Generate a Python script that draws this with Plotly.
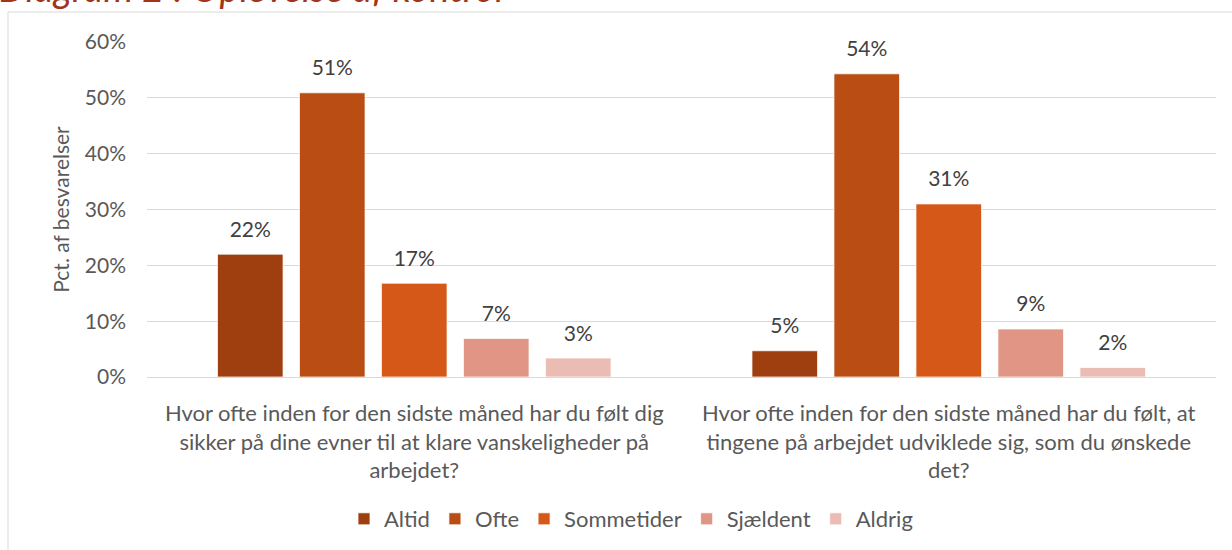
import plotly.graph_objects as go

categories = [
    "Hvor ofte inden for den sidste måned har du følt dig<br>sikker på dine evner til at klare vanskeligheder på<br>arbejdet?",
    "Hvor ofte inden for den sidste måned har du følt, at<br>tingene på arbejdet udviklede sig, som du ønskede<br>det?",
]
series_names = ["Altid", "Ofte", "Sommetider", "Sjældent", "Aldrig"]
altid = [0.220, 0.047]
ofte = [0.509, 0.543]
sommetider = [0.168, 0.310]
sjaeldent = [0.069, 0.086]
aldrig = [0.034, 0.017]
series_values = [altid, ofte, sommetider, sjaeldent, aldrig]
colors = ["#9F3F10", "#BA4D14", "#D55818", "#E09585", "#EBBCB3"]
y_ticks = [0, 0.1, 0.2, 0.3, 0.4, 0.5, 0.6]
y_ticklabels = ["0%", "10%", "20%", "30%", "40%", "50%", "60%"]

FONT = "Lato"
GREY = "#595959"
FS = 21

fig = go.Figure()
for name, vals, col in zip(series_names, series_values, colors):
    fig.add_trace(go.Bar(
        x=categories, y=vals, name=name, offsetgroup=name,
        marker=dict(color=col, line=dict(color="white", width=0.75)),
    ))
for name, vals in zip(series_names, series_values):
    fig.add_trace(go.Scatter(
        x=categories, y=vals, offsetgroup=name, mode="markers+text",
        marker=dict(size=18, opacity=0), showlegend=False, hoverinfo="skip",
        text=[f"{round(v*100):d}%" for v in vals], textposition="top center",
        textfont=dict(family=FONT, size=FS, color="#404040"), cliponaxis=False,
    ))

W, H = 1232, 550
L, R, T, B = 147, 16, 42, 173
pw, ph = W - L - R, H - T - B

def px_x(p):
    return (p - L) / pw

def px_y(p):
    return (H - B - p) / ph

fig.update_layout(
    width=W, height=H,
    margin=dict(l=L, r=R, t=T, b=B, autoexpand=False),
    paper_bgcolor="white", plot_bgcolor="white",
    barmode="group", bargap=0.233, bargroupgap=0.2,
    scattermode="group", scattergap=0.233,
    font=dict(family=FONT, size=FS, color=GREY),
    showlegend=True,
    legend=dict(orientation="h", x=px_x(631), xanchor="center", y=px_y(519), yanchor="middle",
                font=dict(family=FONT, size=22, color=GREY), traceorder="normal",
                itemwidth=30, tracegroupgap=0),
    xaxis=dict(showgrid=False, showline=False, ticks="", ticklabelstandoff=21,
               tickfont=dict(family=FONT, size=22, color=GREY)),
    yaxis=dict(range=[0, 0.6], tickvals=y_ticks, ticktext=y_ticklabels,
               showgrid=True, gridcolor="#D9D9D9", gridwidth=1.3,
               zeroline=True, zerolinecolor="#D9D9D9", zerolinewidth=1.3,
               showline=False, ticks="", ticklabelstandoff=20,
               tickfont=dict(family=FONT, size=FS, color=GREY),
               title=dict(text="Pct. af besvarelser", standoff=9,
                          font=dict(family=FONT, size=FS, color=GREY))),
    shapes=[dict(type="rect", xref="paper", yref="paper",
                 x0=px_x(8), x1=px_x(1260), y0=px_y(600), y1=px_y(12),
                 line=dict(color="#D9D9D9", width=1), fillcolor="rgba(0,0,0,0)", layer="below")],
    annotations=[dict(text="<i>Diagram 2 : Oplevelse af kontrol</i>", xref="paper", yref="paper",
                      x=px_x(-3), xanchor="left", y=px_y(12), yanchor="bottom", showarrow=False,
                      font=dict(family=FONT, size=38, color="#A0341C"))],
)

fig.write_html("out.html", post_script="document.body.style.margin='0';",
               config={"displayModeBar": False})
